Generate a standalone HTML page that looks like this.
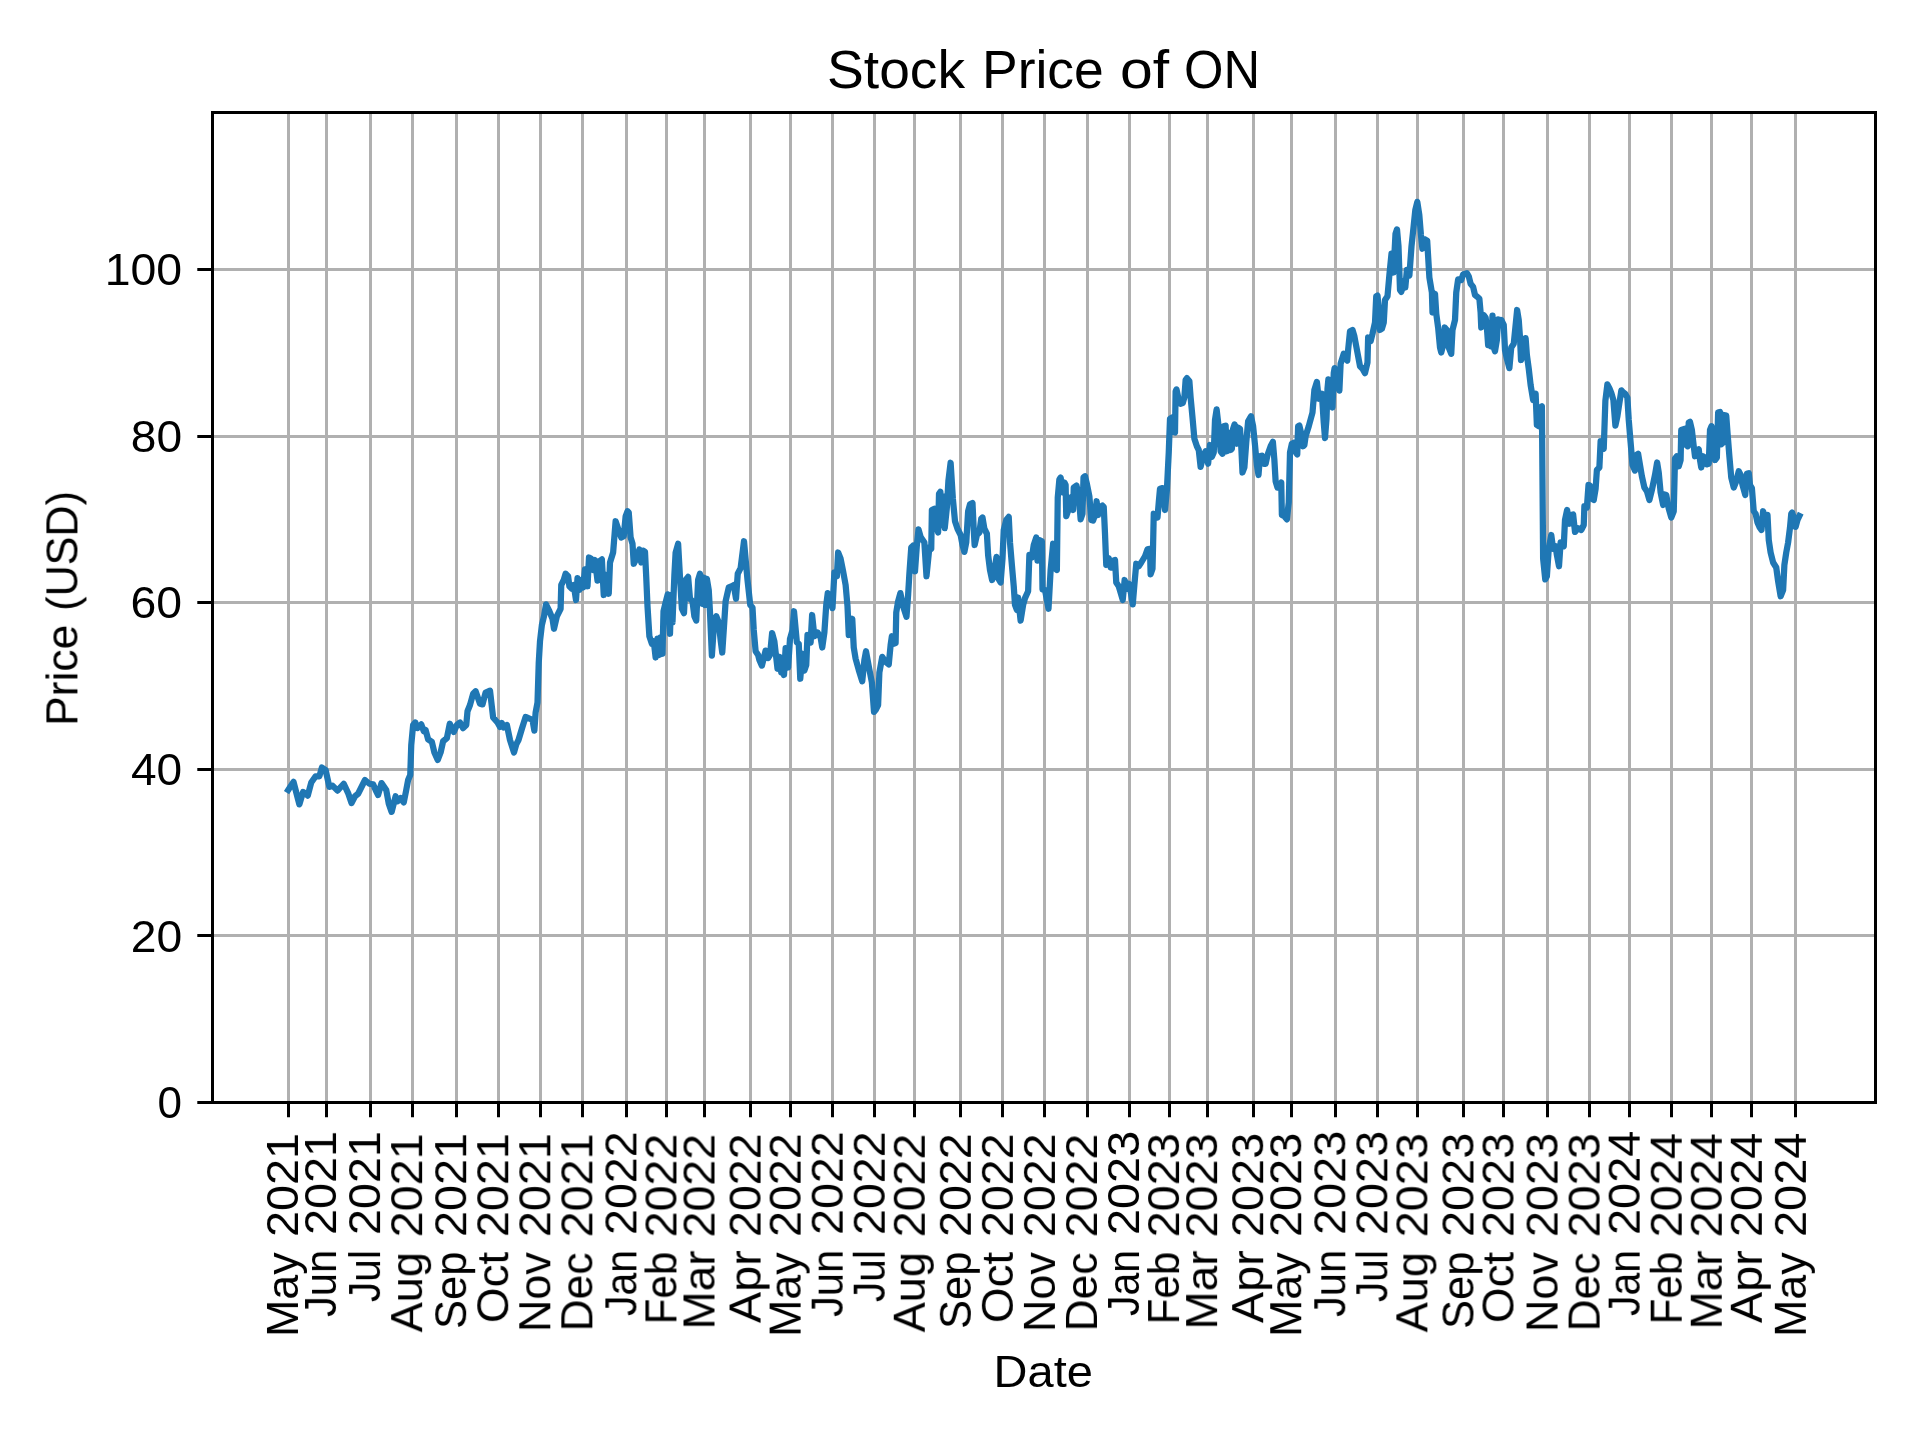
<!DOCTYPE html>
<html><head><meta charset="utf-8"><title>Stock Price of ON</title>
<style>
html,body{margin:0;padding:0;background:#fff;}
body{width:1920px;height:1440px;position:relative;overflow:hidden;font-family:"Liberation Sans",sans-serif;color:#000;}
svg{position:absolute;left:0;top:0;}
.t{position:absolute;left:0;top:0;line-height:1;white-space:pre;transform-origin:0 0;will-change:transform;}
.w{display:inline-block;transform-origin:0 0;}
</style></head><body>
<svg width="1920" height="1440" viewBox="0 0 1920 1440">
<path d="M288.5 112.5V1102.5M326.5 112.5V1102.5M370.5 112.5V1102.5M412.5 112.5V1102.5M456.5 112.5V1102.5M498.5 112.5V1102.5M540.5 112.5V1102.5M582.5 112.5V1102.5M626.5 112.5V1102.5M666.5 112.5V1102.5M704.5 112.5V1102.5M750.5 112.5V1102.5M790.5 112.5V1102.5M832.5 112.5V1102.5M874.5 112.5V1102.5M914.5 112.5V1102.5M960.5 112.5V1102.5M1002.5 112.5V1102.5M1044.5 112.5V1102.5M1087.5 112.5V1102.5M1129.5 112.5V1102.5M1169.5 112.5V1102.5M1207.5 112.5V1102.5M1253.5 112.5V1102.5M1291.5 112.5V1102.5M1335.5 112.5V1102.5M1377.5 112.5V1102.5M1417.5 112.5V1102.5M1463.5 112.5V1102.5M1503.5 112.5V1102.5M1547.5 112.5V1102.5M1589.5 112.5V1102.5M1629.5 112.5V1102.5M1671.5 112.5V1102.5M1711.5 112.5V1102.5M1751.5 112.5V1102.5M1795.5 112.5V1102.5M212.5 935.5H1875.5M212.5 769.5H1875.5M212.5 602.5H1875.5M212.5 436.5H1875.5M212.5 269.5H1875.5" stroke="#b0b0b0" stroke-width="3" fill="none"/>
<path d="M288.25 790 L293.5 781.88 L299.38 804.38 L303.12 791.88 L307.75 795.62 L311.25 782.5 L315.62 776.25 L319.38 776.25 L321.88 767.5 L325.62 770 L329.38 786.88 L332.5 785.62 L337.5 790.62 L343.75 783.75 L348.12 793.12 L351.5 803.12 L355 796.25 L358.12 793.75 L361.25 787.5 L365 780 L369.38 783.75 L373.12 784.38 L375.62 790 L378.12 795 L381.5 783.12 L386.25 790 L388.75 803.75 L391.62 811.88 L395.62 796.25 L397.5 801.25 L400.62 798.12 L403.75 802.5 L406.25 790 L408.12 780 L410.25 775 L411.25 745 L413.12 725 L415.25 722.5 L417.5 728.12 L421.25 724.38 L423.75 731.25 L425.62 730 L428.12 739.38 L431.88 741.88 L434.38 752.5 L437.75 760 L440.62 752.5 L443.12 741.25 L446.88 738.12 L449.75 723.75 L453.75 731.88 L456.88 725 L460 722.5 L463.12 728.12 L466.25 725 L467.5 711.25 L470 705 L473.12 693.75 L475.62 691.25 L480 703.75 L482.5 704.38 L485.62 692.5 L490 690.62 L493.12 717.5 L497.5 722.5 L500 726.88 L501.88 723.12 L503.75 727.5 L506.88 725 L510 740 L514 752.5 L516.25 744.38 L518.5 740 L521.88 728.75 L525.62 716.88 L530 718.75 L532.5 720 L534.38 730.62 L535.62 712.5 L537.5 702.5 L538.75 662.5 L540 641.25 L541.88 625 L544 616.25 L546 604.38 L549.38 611.25 L552.5 618.75 L554 628.75 L556.88 616.25 L560.62 608.75 L561.25 585 L563.75 580 L565.62 573.75 L568.12 576.25 L569.38 586.25 L571.88 588.75 L573.75 585 L576 600 L577.5 578.12 L579.38 590 L581.25 580 L583.12 587.5 L585 569.38 L587.5 586.25 L589 557.5 L591.25 558.75 L593.12 570 L595 560 L597.5 580.62 L599.38 561.25 L601.88 559.38 L603.75 595 L606.25 575 L608.75 593.75 L610 562.5 L613.12 552.5 L615.62 521.25 L618.12 528.75 L621.25 537.5 L623.75 536.25 L625.62 516.25 L627.5 511.25 L628.75 512.5 L630.62 537.5 L632.5 543.75 L633.75 563.75 L636.25 558.75 L639.38 549.38 L641.25 562.5 L643.12 550.62 L645 551.88 L646.25 577.5 L647.5 606.25 L649.38 636.25 L651.88 643.75 L653.75 641.25 L655.62 657.5 L657.5 638.75 L659.38 655 L660.62 637.5 L662.5 653.75 L663.5 611.25 L665.62 602.5 L667.75 594.38 L670 633.75 L671.25 595 L672.5 622.5 L674.38 575 L675.62 552.5 L678.12 543.75 L680 577.5 L681.88 608.75 L684 613.12 L685.62 580 L688.12 576.88 L690 598.75 L692.5 601.25 L694.38 616.25 L696.25 620.62 L698.12 580 L700 573.75 L702.5 603.75 L703.5 577.5 L705.25 605 L706.88 578.75 L708.75 590 L710 612.5 L711.88 655.62 L714.38 618.75 L716.25 616.25 L718.75 622.5 L720.62 640 L722.25 652.5 L724 626.25 L725.62 601.25 L728.75 587.5 L731.88 586.25 L733.75 585 L736 598.75 L737.75 573.75 L740.62 568.12 L744 541.25 L747.5 580 L750.25 605 L752.5 607.5 L753.75 630 L755.62 651.25 L758.12 655 L759.38 660 L761.88 665.62 L765.62 650.62 L768.12 658.12 L770 655 L772.12 633.12 L774.38 641.25 L777.5 668.75 L779.38 656.88 L781.25 672.5 L782.5 658.12 L784 675 L785.62 648.12 L788.12 667.5 L790 638.75 L792.5 630 L794 611.25 L796.88 642.5 L798.75 643.75 L800.25 678.75 L802.5 653.75 L804.38 670.62 L806.25 665 L807.5 635 L810.62 642.5 L812.12 615 L814.38 636.25 L817.5 632.5 L820.62 637.5 L822.25 647.5 L824.38 632.5 L826.25 605 L827.75 593.12 L830.62 597.5 L832.5 608.12 L834.38 572.5 L836.88 576.25 L838.12 552.5 L840.62 558.75 L843.12 571.25 L845.62 585 L847.5 606.25 L848.75 635 L850.62 632.5 L852.25 618.75 L853.75 647.5 L855.62 658.75 L858.75 670 L862.25 681.25 L864.38 660 L866 651.25 L868.75 666.25 L871.88 682.5 L874 711.88 L875.62 710 L878.12 705 L879.38 672.5 L882.25 656.88 L885 661.25 L888.75 664.38 L890.62 645 L891.88 636.25 L893.75 643.75 L895.62 643.12 L896.25 612.5 L898.12 601.25 L900.38 593.12 L903.12 606.25 L906.5 616.88 L908.12 595 L909.38 573.75 L911.25 547.5 L913.12 545.62 L915 571.25 L916.88 545 L918.5 529.38 L920.62 536.88 L924.38 542.5 L926.5 576.25 L929.38 547.5 L931.25 548.75 L931.88 510 L934.38 508.75 L936.25 525 L938.12 532.5 L939 493.75 L940.38 491.88 L941.88 525 L943.12 496.25 L944.75 528.12 L946.88 507.5 L948.38 481.25 L950.62 462.75 L952.88 498.75 L955 521.25 L957.5 528.75 L960.62 535 L962.5 545 L964.38 551.88 L966.25 542.5 L968.12 511.25 L970 504.38 L972.5 503.12 L973.75 530 L974.62 545 L976.88 535 L979.38 532.5 L981.25 518.75 L982.5 517.5 L984.38 528.75 L986.88 533.75 L988.12 555 L990 570 L992.12 580 L994.38 571.25 L996.5 556.88 L998.12 578.12 L1000.62 582.5 L1002.5 558.75 L1003.75 530 L1006.25 520 L1008.75 516.88 L1010 542.5 L1011.88 565 L1013.75 586.25 L1015 605 L1016.88 610 L1018.12 597.5 L1020.62 620.62 L1023.12 605 L1025 598.12 L1028.12 591.25 L1029.38 555 L1031.88 557.5 L1033.75 545 L1036.25 537.5 L1037.5 560.62 L1039.38 540 L1041.88 541.25 L1042.5 589.38 L1045 590 L1048.5 608.75 L1050.62 570 L1053.12 543.75 L1054.38 567.5 L1056.88 570 L1057.75 497.5 L1059.38 479.38 L1060.62 477.5 L1063.12 492.5 L1064.38 482.5 L1065.62 485 L1066.25 516.25 L1068.75 508.75 L1070.62 497.5 L1073.12 510 L1073.75 487.5 L1076.5 485.62 L1078.75 495 L1080.62 519.38 L1082.5 513.75 L1083.5 477.5 L1085 476.25 L1086.88 483.75 L1089.38 496.25 L1091.25 520 L1093.12 520.62 L1095 515 L1096.62 501.25 L1098.12 515 L1100 507.5 L1102.5 505.62 L1103.75 506.88 L1105 533.75 L1106.25 565 L1108.75 558.12 L1110.62 567.5 L1111.88 567.5 L1113.12 560.62 L1115 560 L1116.25 582.5 L1118.75 586.25 L1120.62 592.5 L1122.75 600 L1124.62 580 L1126.88 588.75 L1128.75 583.75 L1130.62 591.25 L1132.75 604.38 L1134.38 585 L1136.25 563.75 L1138.75 566.25 L1141.25 562.5 L1145 556.25 L1147.5 549.38 L1150 548.75 L1150.62 574.38 L1152.5 568.75 L1153.12 543.75 L1153.75 513.75 L1155.62 515 L1157.5 517.5 L1158.75 502.5 L1160 488.75 L1162.5 488.12 L1165 510 L1166.88 490 L1168.75 452.5 L1170 418.75 L1171.88 417.5 L1173.12 431.25 L1175 432.5 L1175.62 391.25 L1176.5 389.38 L1178.75 400 L1180.62 403.75 L1182.75 403.12 L1184.38 397.5 L1185.62 380 L1186.88 378.12 L1189.38 381.25 L1190.62 397.5 L1192.5 417.5 L1194.38 438.75 L1196.88 446.25 L1198.75 450 L1200.62 466.88 L1203.12 456.25 L1205.62 451.25 L1208.12 463.75 L1210 445 L1211.88 456.88 L1213.75 452.5 L1215 420 L1216.62 409.38 L1218.75 427.5 L1220.62 451.25 L1222.5 453.75 L1223.75 426.25 L1225.62 425.62 L1226.88 451.25 L1228.75 432.5 L1230.62 450 L1231.88 448.75 L1233.12 428.75 L1234.62 424.38 L1236.88 443.75 L1238.12 427.5 L1240 428.75 L1241.25 446.25 L1242.5 472.5 L1244.38 467.5 L1246.25 442.5 L1248.12 421.25 L1251 416.25 L1253.12 426.25 L1255 445 L1256.88 465 L1258.5 475 L1260 456.25 L1261.88 455.62 L1263.75 463.75 L1265.62 463.75 L1267.5 455 L1270.62 446.25 L1272.88 441.88 L1274.38 460 L1275.62 481.25 L1277.5 487.5 L1279.38 485 L1281.25 482.5 L1281.88 515 L1284.38 516.25 L1286.88 519.38 L1288.75 502.5 L1290 452.5 L1291.88 443.75 L1294.38 442.5 L1295 451.25 L1297.25 454.38 L1298.12 426.25 L1299.38 425.62 L1301.88 436.25 L1303.12 446.25 L1304.38 445 L1305.62 436.25 L1308.75 426.25 L1312.5 412.5 L1314.38 390 L1316.88 381.88 L1318.75 398.75 L1321.88 393.75 L1323.75 422.5 L1325 438.12 L1326.5 418.75 L1327.5 388.75 L1328.38 379.38 L1330.62 398.12 L1332.5 407.5 L1333.75 373.12 L1334.62 368.12 L1336.88 379.38 L1339.38 390.62 L1340.62 363.75 L1343.75 353.75 L1345.62 357.5 L1347.25 360.62 L1348.12 350 L1350 331.25 L1352.5 330 L1354.38 336.25 L1356.25 346.25 L1360 366.25 L1362.5 368.75 L1365 373.12 L1367.5 362.5 L1368.12 337.5 L1370.62 341.25 L1372.5 333.75 L1375 322.5 L1376.25 296.25 L1377.5 295.62 L1378.75 308.75 L1380 330 L1381.88 328.75 L1383.75 322.5 L1385 300 L1387.5 296.25 L1389.38 275 L1391.5 253.75 L1393.5 272.5 L1395.5 233.75 L1397 229.38 L1398.5 246.25 L1400 290 L1401.25 291.88 L1403.12 286.25 L1404.06 280.62 L1405.31 287.5 L1406.88 270 L1409.38 275.62 L1411.5 246.25 L1413.5 227.5 L1415.31 210 L1417.31 201.88 L1419.31 215 L1420.94 235 L1422.38 248.75 L1425 239.38 L1427.19 240.62 L1429.38 277.5 L1431.88 292.5 L1432.5 312.5 L1435 293.75 L1436.25 313.75 L1438.12 327.5 L1440 347.5 L1441.25 352.5 L1443.12 345 L1444.75 327.5 L1446.88 330 L1448.75 347.5 L1451.25 353.75 L1452.5 330 L1455 320 L1456.25 292.5 L1458.12 279.38 L1461.25 280 L1463.12 274.38 L1466.88 273.12 L1468.75 276.25 L1470.62 283.75 L1473.12 286.88 L1475 295 L1477.5 296.88 L1479.38 298.75 L1480.62 312.5 L1481.25 327.5 L1483.75 315 L1485.62 317.5 L1486.88 327.5 L1488.12 345 L1489.38 325 L1491 346.25 L1492.5 315.62 L1493.75 347.5 L1495 351.25 L1496.88 340 L1498.12 319.38 L1500 325 L1501.25 320 L1503.75 325 L1505 350 L1506.88 358.75 L1509.38 368.12 L1511.25 347.5 L1513.75 343.75 L1515.62 325 L1517.12 310 L1518.75 320 L1520 337.5 L1521 360 L1522.5 340 L1523.75 357.5 L1525.62 338.12 L1526.88 355 L1528.75 368.75 L1530.62 385 L1533.12 400 L1535.62 393.75 L1536.88 425 L1538.75 426.25 L1540 407.5 L1541.88 406.25 L1543.12 558.75 L1545.25 579.38 L1546.88 576.25 L1548.75 548.75 L1551.25 535 L1553.12 548.75 L1555.62 546.25 L1556.88 555 L1559 566.25 L1560.62 542.5 L1563.75 546.25 L1565 520 L1567.12 510 L1569.38 523.75 L1571.25 515 L1573.12 514.38 L1575 531.88 L1578.12 528.12 L1581.25 530 L1583.75 525 L1584.38 506.25 L1586.88 507.5 L1588.5 485 L1590 485.62 L1591.88 498.75 L1593.75 500 L1595.62 488.75 L1596.88 470 L1599.38 467.5 L1600.62 441.25 L1603.75 448.75 L1605.38 400.62 L1607.38 384.38 L1609.38 388.12 L1611.38 393.12 L1613.38 400 L1615.38 425.62 L1617.38 416.25 L1619.38 403.12 L1621.38 390.31 L1623.38 392.5 L1625.38 394.06 L1627.38 397.5 L1628.75 420 L1630.62 442.5 L1632.5 465 L1635 470.62 L1636.25 455 L1638.12 453.75 L1640 465 L1641.88 476.25 L1644.38 487.5 L1646.88 491.25 L1649.38 500 L1651.88 490 L1655 475 L1657.12 462.5 L1658.75 472.5 L1660.62 492.5 L1663.12 505 L1664.38 494.38 L1666.25 495 L1668.75 508.75 L1671.25 517.5 L1673.75 511.25 L1675 458.75 L1676.88 456.25 L1678.75 466.25 L1680.62 460 L1681.25 430 L1685 428.75 L1686.25 445 L1687.75 446.25 L1688.75 422.5 L1690 421.88 L1691.88 430 L1693.75 446.25 L1695 456.25 L1696.88 451.25 L1698.75 449.38 L1700 460 L1701.25 467.5 L1703.12 456.25 L1705 457.5 L1706.88 464.38 L1708.75 463.75 L1710 430 L1711.5 426.25 L1713.12 432.5 L1715 460 L1716.88 457.5 L1718.12 412.5 L1720 411.88 L1721.25 444.38 L1723.12 442.5 L1723.75 415 L1726.25 415.62 L1727.5 432.5 L1729.38 456.25 L1731.25 477.5 L1733.75 487.5 L1736.25 481.25 L1738.75 471.25 L1740.62 475 L1742.5 485 L1745.25 495 L1746.88 473.75 L1748.75 473.12 L1750 485 L1751.88 488.12 L1753.75 511.25 L1755.62 513.75 L1757.5 522.5 L1759.38 526.88 L1761.5 530 L1763.12 511.25 L1765.38 520 L1767.5 515 L1768.75 540 L1770.62 552.5 L1773.12 562.5 L1776.25 567.5 L1778.12 581.25 L1780.62 596.25 L1783.12 590 L1784.38 565 L1786.25 552.5 L1788.12 542.5 L1790 527.5 L1791.25 513.75 L1792.12 512.5 L1794.38 520 L1795.62 526.88 L1797.5 520 L1799.38 516" stroke="#1f77b4" stroke-width="6.25" fill="none" stroke-linejoin="round" stroke-linecap="square"/>
<path d="M288.5 1102.5v14.7M326.5 1102.5v14.7M370.5 1102.5v14.7M412.5 1102.5v14.7M456.5 1102.5v14.7M498.5 1102.5v14.7M540.5 1102.5v14.7M582.5 1102.5v14.7M626.5 1102.5v14.7M666.5 1102.5v14.7M704.5 1102.5v14.7M750.5 1102.5v14.7M790.5 1102.5v14.7M832.5 1102.5v14.7M874.5 1102.5v14.7M914.5 1102.5v14.7M960.5 1102.5v14.7M1002.5 1102.5v14.7M1044.5 1102.5v14.7M1087.5 1102.5v14.7M1129.5 1102.5v14.7M1169.5 1102.5v14.7M1207.5 1102.5v14.7M1253.5 1102.5v14.7M1291.5 1102.5v14.7M1335.5 1102.5v14.7M1377.5 1102.5v14.7M1417.5 1102.5v14.7M1463.5 1102.5v14.7M1503.5 1102.5v14.7M1547.5 1102.5v14.7M1589.5 1102.5v14.7M1629.5 1102.5v14.7M1671.5 1102.5v14.7M1711.5 1102.5v14.7M1751.5 1102.5v14.7M1795.5 1102.5v14.7M212.5 1102.5h-15.2M212.5 935.5h-15.2M212.5 769.5h-15.2M212.5 602.5h-15.2M212.5 436.5h-15.2M212.5 269.5h-15.2" stroke="#000" stroke-width="3" fill="none"/>
<rect x="212.5" y="112.5" width="1663" height="990" stroke="#000" stroke-width="3" fill="none"/>
</svg>
<div class="t" style="font-size:52.98px;transform:translate(827.02px,88px) translate(0,-44.85px)"><span class="w" style="transform:scaleX(1.0416);margin-right:7.44px">Stock </span><span class="w" style="transform:scaleX(1.0085);margin-right:2.82px">Price </span><span class="w" style="transform:scaleX(1.1124);margin-right:5.56px">of </span><span class="w" style="transform:scaleX(0.9566)">ON</span></div>
<div class="t" style="font-size:44.15px;transform:translate(993.62px,1387px) translate(0,-37.37px)"><span class="w" style="transform:scaleX(1.0646)">Date</span></div>
<div class="t" style="font-size:44.15px;transform:translate(77.8px,725.86px) rotate(-90deg) translate(0,-37.37px)"><span class="w" style="transform:scaleX(1.0056);margin-right:2.65px">Price </span><span class="w" style="transform:scaleX(0.9781)">(USD)</span></div>
<div class="t" style="font-size:44.15px;transform:translate(157.5px,1118.5px) translate(0,-37.37px)"><span class="w" style="transform:scaleX(0.9981)">0</span></div>
<div class="t" style="font-size:44.15px;transform:translate(130.7px,951.94px) translate(0,-37.37px)"><span class="w" style="transform:scaleX(1.0476)">20</span></div>
<div class="t" style="font-size:44.15px;transform:translate(130.93px,785.38px) translate(0,-37.37px)"><span class="w" style="transform:scaleX(1.0426)">40</span></div>
<div class="t" style="font-size:44.15px;transform:translate(130.59px,618.82px) translate(0,-37.37px)"><span class="w" style="transform:scaleX(1.0499)">60</span></div>
<div class="t" style="font-size:44.15px;transform:translate(130.84px,452.26px) translate(0,-37.37px)"><span class="w" style="transform:scaleX(1.0445)">80</span></div>
<div class="t" style="font-size:44.15px;transform:translate(104.63px,285.7px) translate(0,-37.37px)"><span class="w" style="transform:scaleX(1.0515)">100</span></div>
<div class="t" style="font-size:44.15px;transform:translate(298.35px,1336.96px) rotate(-90deg) translate(0,-37.37px)"><span class="w" style="transform:scaleX(1.0143);margin-right:4.03px">May </span><span class="w" style="transform:scaleX(1.0581)">2021</span></div>
<div class="t" style="font-size:44.15px;transform:translate(336.4px,1316.92px) rotate(-90deg) translate(0,-37.37px)"><span class="w" style="transform:scaleX(0.9422);margin-right:-1.6px">Jun </span><span class="w" style="transform:scaleX(1.0581)">2021</span></div>
<div class="t" style="font-size:44.15px;transform:translate(380.45px,1302.07px) rotate(-90deg) translate(0,-37.37px)"><span class="w" style="transform:scaleX(0.9201);margin-right:-1.7px">Jul </span><span class="w" style="transform:scaleX(1.0581)">2021</span></div>
<div class="t" style="font-size:44.15px;transform:translate(422.51px,1332.35px) rotate(-90deg) translate(0,-37.37px)"><span class="w" style="transform:scaleX(1.0223);margin-right:4.27px">Aug </span><span class="w" style="transform:scaleX(1.0581)">2021</span></div>
<div class="t" style="font-size:44.15px;transform:translate(466.56px,1328.97px) rotate(-90deg) translate(0,-37.37px)"><span class="w" style="transform:scaleX(0.9842);margin-right:0.89px">Sep </span><span class="w" style="transform:scaleX(1.0581)">2021</span></div>
<div class="t" style="font-size:44.15px;transform:translate(508.61px,1323.12px) rotate(-90deg) translate(0,-37.37px)"><span class="w" style="transform:scaleX(1.0381);margin-right:4.91px">Oct </span><span class="w" style="transform:scaleX(1.0581)">2021</span></div>
<div class="t" style="font-size:44.15px;transform:translate(550.66px,1332.15px) rotate(-90deg) translate(0,-37.37px)"><span class="w" style="transform:scaleX(1.0176);margin-right:4.11px">Nov </span><span class="w" style="transform:scaleX(1.0581)">2021</span></div>
<div class="t" style="font-size:44.15px;transform:translate(592.72px,1331.41px) rotate(-90deg) translate(0,-37.37px)"><span class="w" style="transform:scaleX(1.0046);margin-right:3.38px">Dec </span><span class="w" style="transform:scaleX(1.0581)">2021</span></div>
<div class="t" style="font-size:44.15px;transform:translate(636.77px,1316.03px) rotate(-90deg) translate(0,-37.37px)"><span class="w" style="transform:scaleX(0.9299);margin-right:-2.48px">Jan </span><span class="w" style="transform:scaleX(1.0560)">2022</span></div>
<div class="t" style="font-size:44.15px;transform:translate(676.82px,1324.37px) rotate(-90deg) translate(0,-37.37px)"><span class="w" style="transform:scaleX(0.9541);margin-right:-1.22px">Feb </span><span class="w" style="transform:scaleX(1.0560)">2022</span></div>
<div class="t" style="font-size:44.15px;transform:translate(714.87px,1329.53px) rotate(-90deg) translate(0,-37.37px)"><span class="w" style="transform:scaleX(1.0396);margin-right:3.97px">Mar </span><span class="w" style="transform:scaleX(1.0560)">2022</span></div>
<div class="t" style="font-size:44.15px;transform:translate(760.93px,1323.08px) rotate(-90deg) translate(0,-37.37px)"><span class="w" style="transform:scaleX(1.0589);margin-right:4.85px">Apr </span><span class="w" style="transform:scaleX(1.0560)">2022</span></div>
<div class="t" style="font-size:44.15px;transform:translate(800.98px,1336.96px) rotate(-90deg) translate(0,-37.37px)"><span class="w" style="transform:scaleX(1.0143);margin-right:4.04px">May </span><span class="w" style="transform:scaleX(1.0560)">2022</span></div>
<div class="t" style="font-size:44.15px;transform:translate(843.03px,1316.92px) rotate(-90deg) translate(0,-37.37px)"><span class="w" style="transform:scaleX(0.9422);margin-right:-1.6px">Jun </span><span class="w" style="transform:scaleX(1.0560)">2022</span></div>
<div class="t" style="font-size:44.15px;transform:translate(885.08px,1302.07px) rotate(-90deg) translate(0,-37.37px)"><span class="w" style="transform:scaleX(0.9201);margin-right:-1.7px">Jul </span><span class="w" style="transform:scaleX(1.0560)">2022</span></div>
<div class="t" style="font-size:44.15px;transform:translate(925.13px,1332.35px) rotate(-90deg) translate(0,-37.37px)"><span class="w" style="transform:scaleX(1.0223);margin-right:4.27px">Aug </span><span class="w" style="transform:scaleX(1.0560)">2022</span></div>
<div class="t" style="font-size:44.15px;transform:translate(971.19px,1328.97px) rotate(-90deg) translate(0,-37.37px)"><span class="w" style="transform:scaleX(0.9842);margin-right:0.89px">Sep </span><span class="w" style="transform:scaleX(1.0560)">2022</span></div>
<div class="t" style="font-size:44.15px;transform:translate(1013.24px,1323.12px) rotate(-90deg) translate(0,-37.37px)"><span class="w" style="transform:scaleX(1.0381);margin-right:4.91px">Oct </span><span class="w" style="transform:scaleX(1.0560)">2022</span></div>
<div class="t" style="font-size:44.15px;transform:translate(1055.29px,1332.15px) rotate(-90deg) translate(0,-37.37px)"><span class="w" style="transform:scaleX(1.0176);margin-right:4.12px">Nov </span><span class="w" style="transform:scaleX(1.0560)">2022</span></div>
<div class="t" style="font-size:44.15px;transform:translate(1097.35px,1331.41px) rotate(-90deg) translate(0,-37.37px)"><span class="w" style="transform:scaleX(1.0046);margin-right:3.38px">Dec </span><span class="w" style="transform:scaleX(1.0560)">2022</span></div>
<div class="t" style="font-size:44.15px;transform:translate(1139.4px,1316.03px) rotate(-90deg) translate(0,-37.37px)"><span class="w" style="transform:scaleX(0.9299);margin-right:-2.49px">Jan </span><span class="w" style="transform:scaleX(1.0612)">2023</span></div>
<div class="t" style="font-size:44.15px;transform:translate(1179.45px,1324.37px) rotate(-90deg) translate(0,-37.37px)"><span class="w" style="transform:scaleX(0.9541);margin-right:-1.24px">Feb </span><span class="w" style="transform:scaleX(1.0612)">2023</span></div>
<div class="t" style="font-size:44.15px;transform:translate(1217.5px,1329.53px) rotate(-90deg) translate(0,-37.37px)"><span class="w" style="transform:scaleX(1.0396);margin-right:3.96px">Mar </span><span class="w" style="transform:scaleX(1.0612)">2023</span></div>
<div class="t" style="font-size:44.15px;transform:translate(1263.55px,1323.08px) rotate(-90deg) translate(0,-37.37px)"><span class="w" style="transform:scaleX(1.0589);margin-right:4.84px">Apr </span><span class="w" style="transform:scaleX(1.0612)">2023</span></div>
<div class="t" style="font-size:44.15px;transform:translate(1301.6px,1336.96px) rotate(-90deg) translate(0,-37.37px)"><span class="w" style="transform:scaleX(1.0143);margin-right:4.02px">May </span><span class="w" style="transform:scaleX(1.0612)">2023</span></div>
<div class="t" style="font-size:44.15px;transform:translate(1345.66px,1316.92px) rotate(-90deg) translate(0,-37.37px)"><span class="w" style="transform:scaleX(0.9422);margin-right:-1.61px">Jun </span><span class="w" style="transform:scaleX(1.0612)">2023</span></div>
<div class="t" style="font-size:44.15px;transform:translate(1387.71px,1302.07px) rotate(-90deg) translate(0,-37.37px)"><span class="w" style="transform:scaleX(0.9201);margin-right:-1.71px">Jul </span><span class="w" style="transform:scaleX(1.0612)">2023</span></div>
<div class="t" style="font-size:44.15px;transform:translate(1427.76px,1332.35px) rotate(-90deg) translate(0,-37.37px)"><span class="w" style="transform:scaleX(1.0223);margin-right:4.26px">Aug </span><span class="w" style="transform:scaleX(1.0612)">2023</span></div>
<div class="t" style="font-size:44.15px;transform:translate(1473.82px,1328.97px) rotate(-90deg) translate(0,-37.37px)"><span class="w" style="transform:scaleX(0.9842);margin-right:0.88px">Sep </span><span class="w" style="transform:scaleX(1.0612)">2023</span></div>
<div class="t" style="font-size:44.15px;transform:translate(1513.87px,1323.12px) rotate(-90deg) translate(0,-37.37px)"><span class="w" style="transform:scaleX(1.0381);margin-right:4.9px">Oct </span><span class="w" style="transform:scaleX(1.0612)">2023</span></div>
<div class="t" style="font-size:44.15px;transform:translate(1557.92px,1332.15px) rotate(-90deg) translate(0,-37.37px)"><span class="w" style="transform:scaleX(1.0176);margin-right:4.11px">Nov </span><span class="w" style="transform:scaleX(1.0612)">2023</span></div>
<div class="t" style="font-size:44.15px;transform:translate(1599.97px,1331.41px) rotate(-90deg) translate(0,-37.37px)"><span class="w" style="transform:scaleX(1.0046);margin-right:3.37px">Dec </span><span class="w" style="transform:scaleX(1.0612)">2023</span></div>
<div class="t" style="font-size:44.15px;transform:translate(1640.02px,1316.03px) rotate(-90deg) translate(0,-37.37px)"><span class="w" style="transform:scaleX(0.9299);margin-right:-2.5px">Jan </span><span class="w" style="transform:scaleX(1.0637)">2024</span></div>
<div class="t" style="font-size:44.15px;transform:translate(1682.08px,1324.37px) rotate(-90deg) translate(0,-37.37px)"><span class="w" style="transform:scaleX(0.9541);margin-right:-1.24px">Feb </span><span class="w" style="transform:scaleX(1.0637)">2024</span></div>
<div class="t" style="font-size:44.15px;transform:translate(1722.13px,1329.53px) rotate(-90deg) translate(0,-37.37px)"><span class="w" style="transform:scaleX(1.0396);margin-right:3.96px">Mar </span><span class="w" style="transform:scaleX(1.0637)">2024</span></div>
<div class="t" style="font-size:44.15px;transform:translate(1762.18px,1323.08px) rotate(-90deg) translate(0,-37.37px)"><span class="w" style="transform:scaleX(1.0589);margin-right:4.83px">Apr </span><span class="w" style="transform:scaleX(1.0637)">2024</span></div>
<div class="t" style="font-size:44.15px;transform:translate(1806.23px,1336.96px) rotate(-90deg) translate(0,-37.37px)"><span class="w" style="transform:scaleX(1.0143);margin-right:4.02px">May </span><span class="w" style="transform:scaleX(1.0637)">2024</span></div>
</body></html>
